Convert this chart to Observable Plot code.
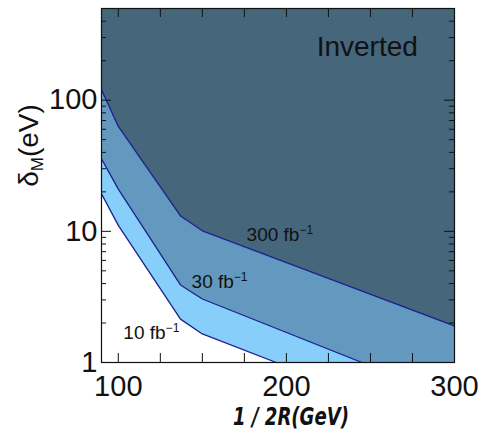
<!DOCTYPE html>
<html>
<head>
<meta charset="utf-8">
<script src="https://cdn.jsdelivr.net/npm/d3@7"></script>
<script src="https://cdn.jsdelivr.net/npm/@observablehq/plot@0.6"></script>
<style>
  html, body { margin: 0; padding: 0; background: #fff; }
  #chart svg { display: block; }
</style>
</head>
<body>
<div id="chart"></div>
<script>
// Reach contours in the (1/2R, δM) plane for three integrated luminosities
const x300 = [90, 100, 137, 150, 300];
const y300 = [120, 63, 13.1, 10.1, 1.9];
const x30 = [90, 100, 137, 150, 245];
const y30 = [35.7, 21, 3.9, 3.05, 1];
const x10 = [90, 100, 137, 150, 194];
const y10 = [19.3, 11.1, 2.14, 1.65, 1];

// curve labels (luminosity in fb^-1) and where they sit
const lumiLabels = ["300 fb", "30 fb", "10 fb"];
const lumiLabelX = [176.3, 143.6, 103];
const lumiLabelY = [8.5, 3.68, 1.51];

const regionLabel = "Inverted";
const xTitle = "1 / 2R(GeV)";
const xTickLabels = [100, 200, 300];
const yTickLabels = [1, 10, 100];
const xMinorTicks = [100, 125, 150, 175, 200, 225, 250, 275];
const yMajorTicks = [10, 100];
const yMinorTicks = [2, 3, 4, 5, 6, 7, 8, 9, 20, 30, 40, 50, 60, 70, 80, 90, 200, 300, 400];

const toRows = (xs, ys) => xs.map((x, i) => ({x, y: ys[i]}));
const c300 = toRows(x300, y300);
const c30 = toRows(x30, y30);
const c10 = toRows(x10, y10);
const labelRows = lumiLabels.map((t, i) => ({t, x: lumiLabelX[i], y: lumiLabelY[i]}));

const W = 481, H = 431, mL = 101, mR = 27, mT = 8, mB = 69;
const innerW = W - mL - mR, innerH = H - mT - mB;

const darkFill = "#46667c";
const midFill = "#6399be";
const lightFill = "#87cefa";
const lineColor = "#1c2190";
const font = "'Liberation Sans', Arial, Helvetica, sans-serif";

const chart = Plot.plot({
  width: W,
  height: H,
  marginLeft: mL,
  marginRight: mR,
  marginTop: mT,
  marginBottom: mB,
  style: {fontFamily: font, background: "#fff", color: "#111"},
  x: {domain: [90, 300], label: null},
  y: {type: "log", domain: [1, 500], label: null},
  marks: [
    Plot.frame({fill: darkFill, stroke: null}),
    Plot.areaY(c300, {x: "x", y1: () => 1, y2: "y", fill: midFill, clip: true}),
    Plot.areaY(c30, {x: "x", y1: () => 1, y2: "y", fill: lightFill, clip: true}),
    Plot.areaY(c10, {x: "x", y1: () => 1, y2: "y", fill: "#fff", clip: true}),
    Plot.line(c300, {x: "x", y: "y", stroke: lineColor, strokeWidth: 1.3, clip: true}),
    Plot.line(c30, {x: "x", y: "y", stroke: lineColor, strokeWidth: 1.3, clip: true}),
    Plot.line(c10, {x: "x", y: "y", stroke: lineColor, strokeWidth: 1.3, clip: true}),
    // inward ticks on all four sides
    Plot.tickX(xMinorTicks, {x: d => d, insetTop: innerH - 9, stroke: "#111"}),
    Plot.tickX(xMinorTicks, {x: d => d, insetBottom: innerH - 9, stroke: "#111"}),
    Plot.tickY(yMajorTicks, {y: d => d, insetRight: innerW - 10, stroke: "#111"}),
    Plot.tickY(yMinorTicks, {y: d => d, insetRight: innerW - 5, stroke: "#111"}),
    Plot.tickY(yMajorTicks, {y: d => d, insetLeft: innerW - 10, stroke: "#111"}),
    Plot.tickY(yMinorTicks, {y: d => d, insetLeft: innerW - 5, stroke: "#111"}),
    Plot.axisX({ticks: xTickLabels, tickSize: 0, tickPadding: 13, fontSize: 29, label: null, tickFormat: d => String(d)}),
    Plot.axisY({ticks: yTickLabels, tickSize: 0, tickPadding: 4, fontSize: 29, label: null, tickFormat: d => String(d)}),
    Plot.frame({stroke: "#111", strokeWidth: 1.2}),
    Plot.text(labelRows, {x: "x", y: "y", text: "t", textAnchor: "start", lineAnchor: "bottom", fontSize: 19, fill: "#111"}),
    Plot.text([regionLabel], {x: () => 218, y: () => 219, text: d => d, textAnchor: "start", lineAnchor: "bottom", fontSize: 28, fill: "#111"}),
    Plot.text([xTitle], {frameAnchor: "bottom", text: d => d, dx: 13, dy: 62, lineAnchor: "bottom", fontSize: 24, fontWeight: "bold", fontStyle: "italic", fontFamily: "'Liberation Sans Narrow', 'DejaVu Sans Condensed', sans-serif", fill: "#111"}),
    Plot.text(["δ"], {frameAnchor: "left", text: d => d, dx: -64, dy: -40, rotate: -90, textAnchor: "middle", lineAnchor: "bottom", fontSize: 28, fill: "#111"})
  ]
});

const svg = d3.select(chart);
// superscript "-1" after each "fb"
svg.selectAll("text").filter(function () { return lumiLabels.includes(this.textContent); })
  .append("tspan").attr("dy", "-7").attr("font-size", 12).text("−1");
// subscript M in the y-axis title
const yTitle = svg.selectAll("text").filter(function () { return this.textContent === "δ"; });
yTitle.append("tspan").attr("dy", "5").attr("font-size", 17).text("M");
yTitle.append("tspan").attr("dy", "-5").text("(eV)");
// condensed x-axis title
svg.selectAll("text").filter(function () { return this.textContent === xTitle; })
  .attr("textLength", 116).attr("lengthAdjust", "spacingAndGlyphs");

document.getElementById("chart").appendChild(chart);
</script>
</body>
</html>
